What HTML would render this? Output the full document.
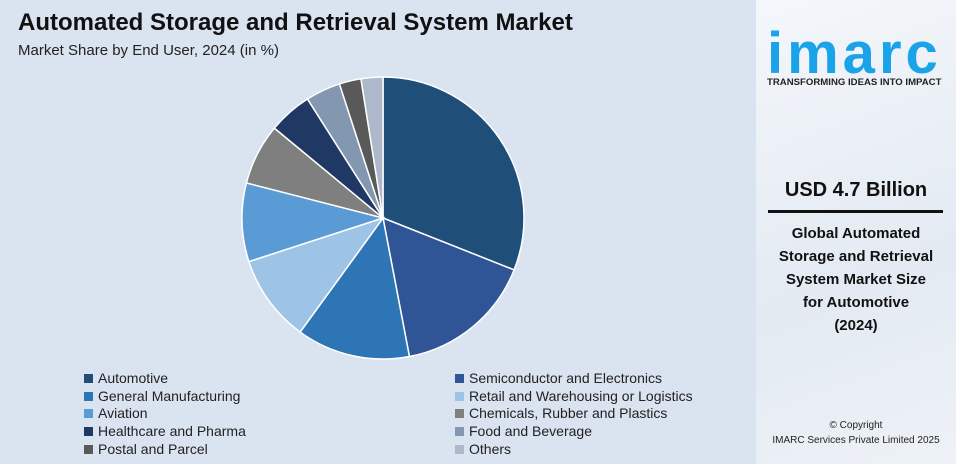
<!DOCTYPE html>
<html><head><meta charset="utf-8"><style>
body{margin:0;width:956px;height:464px;overflow:hidden;font-family:"Liberation Sans",sans-serif;}
#main{position:absolute;left:0;top:0;width:756px;height:464px;background:#dae3f0;}
#side{position:absolute;left:756px;top:0;width:200px;height:464px;background:linear-gradient(160deg,#f4f7fb,#e3eaf2 60%,#eef2f7);}
.t{position:absolute;white-space:nowrap;}
.leg{position:absolute;font-size:14px;color:#222;}
.leg span{display:inline-block;width:9px;height:9px;margin-right:5px;vertical-align:0px;}
</style></head><body>
<div id="main">
<div class="t" style="left:18px;top:9px;font-size:24px;font-weight:bold;color:#111;">Automated Storage and Retrieval System Market</div>
<div class="t" style="left:18px;top:42px;font-size:15px;color:#222;">Market Share by End User, 2024 (in %)</div>
<svg id="pie" width="756" height="464" style="position:absolute;left:0;top:0"></svg>
<div id="legend"></div>
</div>
<div id="side">
<div class="t" style="left:11px;top:20px;font-size:58px;font-weight:bold;color:#1aa3e8;letter-spacing:4px;">imarc</div>
<div class="t" style="left:11px;top:77px;font-size:9.6px;font-weight:bold;color:#222;">TRANSFORMING IDEAS INTO IMPACT</div>
<div class="t" style="left:0;width:200px;text-align:center;top:179px;font-size:20px;font-weight:bold;color:#111;">USD 4.7 Billion</div>
<div style="position:absolute;left:12px;top:210px;width:175px;height:3px;background:#111;"></div>
<div style="position:absolute;left:0;width:200px;text-align:center;top:222px;font-size:15px;font-weight:bold;color:#111;line-height:23px;">Global Automated<br>Storage and Retrieval<br>System Market Size<br>for Automotive<br>(2024)</div>
<div style="position:absolute;left:0;width:200px;text-align:center;top:418px;font-size:10px;color:#222;line-height:15px;">© Copyright<br>IMARC Services Private Limited 2025</div>
</div>
<script>
const categories=["Automotive","Semiconductor and Electronics","General Manufacturing","Retail and Warehousing or Logistics","Aviation","Chemicals, Rubber and Plastics","Healthcare and Pharma","Food and Beverage","Postal and Parcel","Others"];
const shares=[31,16,13,10,9,7,5,4,2.5,2.5];
const colors=["#1f4e79","#2f5597","#2e75b6","#9dc3e6","#5b9bd5","#7f7f7f","#203864","#8497b0","#595959","#adb9ca"];
const svg=document.getElementById('pie');
const cx=383,cy=218,r=141;
const total=shares.reduce((a,b)=>a+b,0);
let acc=0;
function pt(f){const a=f*2*Math.PI;return [cx+r*Math.sin(a),cy-r*Math.cos(a)];}
shares.forEach((v,i)=>{
 const f0=acc/total;acc+=v;const f1=acc/total;
 const [x0,y0]=pt(f0),[x1,y1]=pt(f1);
 const p=document.createElementNS('http://www.w3.org/2000/svg','path');
 p.setAttribute('d',`M${cx},${cy}L${x0},${y0}A${r},${r} 0 ${f1-f0>0.5?1:0} 1 ${x1},${y1}Z`);
 p.setAttribute('fill',colors[i]);p.setAttribute('stroke','#fff');p.setAttribute('stroke-width','1.5');
 
 
 svg.appendChild(p);
});
const lg=document.getElementById('legend');
categories.forEach((c,i)=>{
 const d=document.createElement('div');d.className='leg';
 d.style.left=(i%2?455:84)+'px';d.style.top=(370+Math.floor(i/2)*17.7)+'px';
 d.innerHTML=`<span style="background:${colors[i]}"></span>${c}`;
 
 
 lg.appendChild(d);
});
</script>
</body></html>
